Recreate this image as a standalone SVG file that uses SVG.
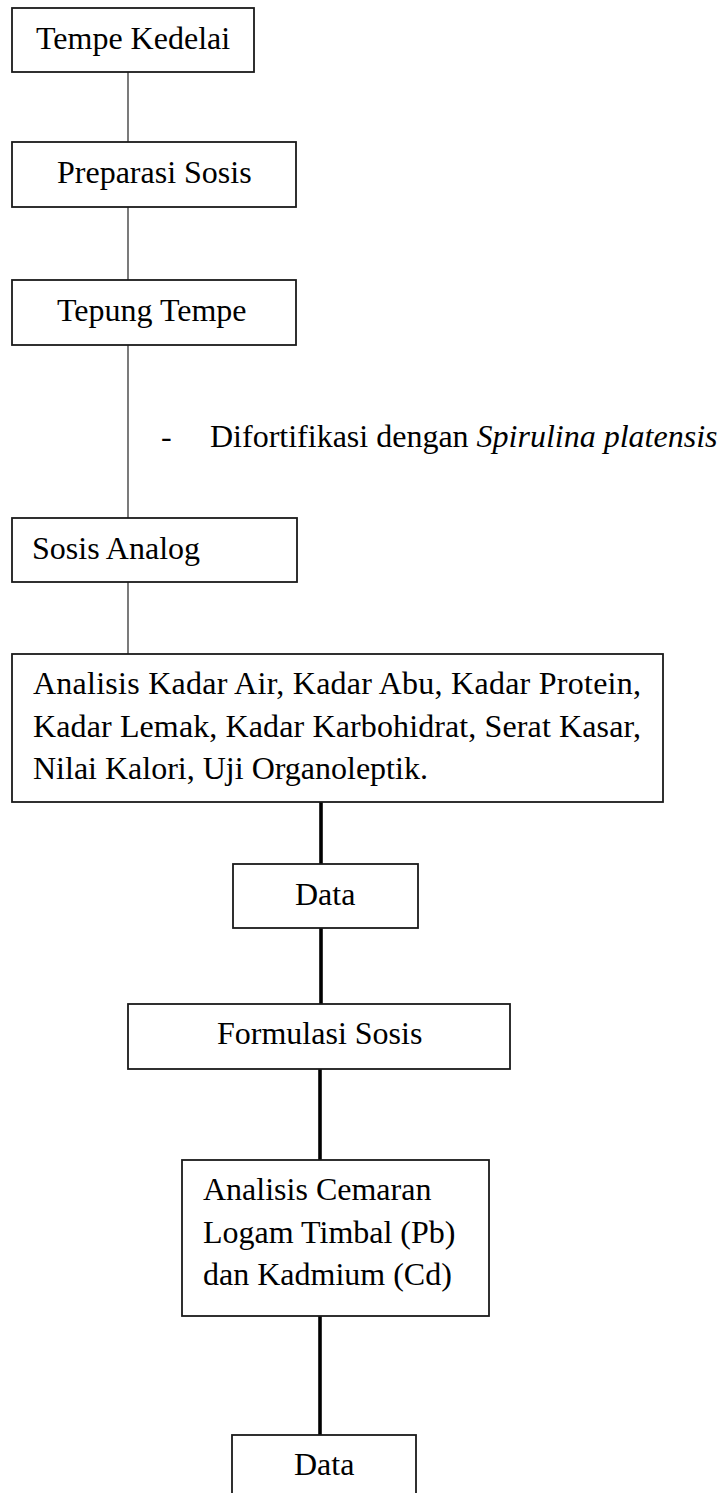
<svg xmlns="http://www.w3.org/2000/svg" width="720" height="1493" viewBox="0 0 720 1493">
<style>
.box{fill:#fff;stroke:#1a1a1a;stroke-width:1.8}
.t{font-family:"Liberation Serif","Times New Roman",serif;font-size:32px;fill:#000}
.thin{stroke:#333;stroke-width:1.3;fill:none}
.thick{stroke:#000;stroke-width:3.6;fill:none}
</style>
<rect width="720" height="1493" fill="#fff"/>
<g id="connectors">
<line class="thin" x1="128" y1="72" x2="128" y2="142"/>
<line class="thin" x1="128" y1="207" x2="128" y2="280"/>
<line class="thin" x1="128" y1="345" x2="128" y2="518"/>
<line class="thin" x1="128" y1="582" x2="128" y2="654"/>
<line class="thick" x1="321" y1="802" x2="321" y2="864"/>
<line class="thick" x1="321" y1="928" x2="321" y2="1004"/>
<line class="thick" x1="320" y1="1069" x2="320" y2="1160"/>
<line class="thick" x1="320" y1="1316" x2="320" y2="1435"/>
</g>
<g id="n1"><rect class="box" x="12" y="8" width="242" height="64"/><text class="t" x="36" y="49">Tempe Kedelai</text></g>
<g id="n2"><rect class="box" x="12" y="142" width="284" height="65"/><text class="t" x="57" y="183">Preparasi Sosis</text></g>
<g id="n3"><rect class="box" x="12" y="280" width="284" height="65"/><text class="t" x="57" y="321">Tepung Tempe</text></g>
<g id="note"><text class="t" x="161" y="447">-</text><text class="t" x="210" y="447">Difortifikasi dengan <tspan font-style="italic">Spirulina platensis</tspan></text></g>
<g id="n4"><rect class="box" x="12" y="518" width="285" height="64"/><text class="t" x="32" y="559">Sosis Analog</text></g>
<g id="n5"><rect class="box" x="12" y="654" width="651" height="148"/>
<text class="t" x="33" y="694" textLength="608" lengthAdjust="spacing">Analisis Kadar Air, Kadar Abu, Kadar Protein,</text>
<text class="t" x="33" y="737" textLength="608" lengthAdjust="spacing">Kadar Lemak, Kadar Karbohidrat, Serat Kasar,</text>
<text class="t" x="33" y="779">Nilai Kalori, Uji Organoleptik.</text></g>
<g id="n6"><rect class="box" x="233" y="864" width="185" height="64"/><text class="t" x="295" y="905">Data</text></g>
<g id="n7"><rect class="box" x="128" y="1004" width="382" height="65"/><text class="t" x="217" y="1044">Formulasi Sosis</text></g>
<g id="n8"><rect class="box" x="182" y="1160" width="307" height="156"/>
<text class="t" x="203" y="1200">Analisis Cemaran</text>
<text class="t" x="203" y="1243">Logam Timbal (Pb)</text>
<text class="t" x="203" y="1285">dan Kadmium (Cd)</text></g>
<g id="n9"><rect class="box" x="232" y="1435" width="184" height="70"/><text class="t" x="294" y="1475">Data</text></g>
</svg>
